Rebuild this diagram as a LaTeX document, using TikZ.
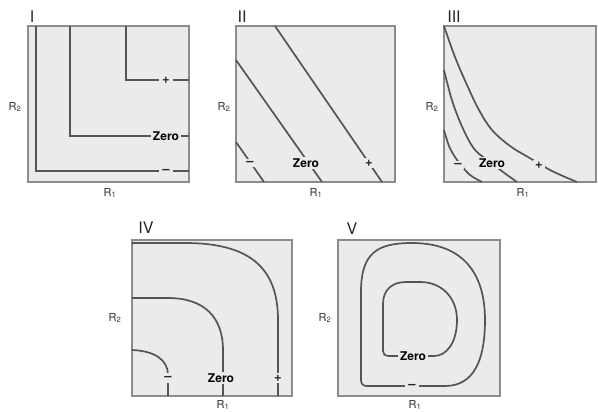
\documentclass[tikz,border=0pt]{standalone}
\usepackage{fontspec}
\setmainfont{TeX Gyre Heros}
\begin{document}
\begin{tikzpicture}[x=1pt,y=-1pt,
  panel/.style={draw=boxgray,fill=panelfill,line width=1.3pt},
  curve/.style={draw=curvegray,line width=1.7pt},
  lab/.style={fill=panelfill,inner sep=2pt,text=black,font=\fontsize{12}{12}\selectfont\bfseries},
  sym/.style={fill=panelfill,inner sep=2pt,text=black!85,font=\fontsize{13}{13}\selectfont\bfseries},
  axis/.style={inner sep=0pt,text=black!80,font=\fontsize{11}{11}\selectfont},
  num/.style={inner sep=0pt,text=black!85,font=\fontsize{16}{16}\selectfont}]
\definecolor{panelfill}{RGB}{235,235,235}
\definecolor{boxgray}{RGB}{140,140,140}
\definecolor{curvegray}{RGB}{85,85,85}
\useasboundingbox (0,0) rectangle (598,412);
% ---------- Panel I
\draw[panel] (28,26) rectangle (189,182);
\node[num] (n1) at (32,17) {I};
\node[axis] (r2a) at (15,107) {R\textsubscript{2}};
\node[axis] (r1a) at (110,193) {R\textsubscript{1}};
\draw[curve] (36,26) -- (36,171) -- (189,171);
\draw[curve] (70,26) -- (70,136) -- (189,136);
\draw[curve] (126,26) -- (126,80) -- (189,80);
\node[sym,inner xsep=3pt] (m1) at (166,171) {–};
\node[lab] (z1) at (166,136) {Zero};
\node[sym,inner xsep=3pt] (p1) at (166,80) {+};
% ---------- Panel II
\draw[panel] (236,26) rectangle (395,182);
\node[num] (n2) at (242,17) {II};
\node[axis] (r2b) at (224,107) {R\textsubscript{2}};
\node[axis] (r1b) at (316,193) {R\textsubscript{1}};
\draw[curve] (275,26) -- (382,182);
\draw[curve] (236,60) -- (322,182);
\draw[curve] (236,142) -- (264,182);
\node[sym,inner xsep=2pt] (p2) at (369,163) {+};
\node[lab] (z2) at (306,163) {Zero};
\node[sym,inner xsep=2pt] (m2) at (250,163) {–};
% ---------- Panel III
\draw[panel] (444,26) rectangle (596,182);
\node[num] (n3) at (454,17) {III};
\node[axis] (r2c) at (432,107) {R\textsubscript{2}};
\node[axis] (r1c) at (523,193) {R\textsubscript{1}};
\draw[curve] plot[smooth,tension=0.6] coordinates {(444,26) (455,57) (467,85) (479,110) (492,130) (510,146) (528,157) (552,171) (577,182)};
\draw[curve] plot[smooth,tension=0.6] coordinates {(444,70) (451,97) (458,117) (467,137) (476,151) (490,162) (503,172) (517,182)};
\draw[curve] plot[smooth,tension=0.6] coordinates {(444,130) (449,146) (455,157) (461,165) (470,175) (482,182)};
\node[sym,inner xsep=2pt] (p3) at (539,165) {+};
\node[lab] (z3) at (492,163) {Zero};
\node[sym,inner xsep=2pt] (m3) at (458,165) {–};
% ---------- Panel IV
\draw[panel] (132,240) rectangle (292,396);
\node[num] (n4) at (146,228) {IV};
\node[axis] (r2d) at (115,318) {R\textsubscript{2}};
\node[axis] (r1d) at (223,405) {R\textsubscript{1}};
\draw[curve] (132,243) -- (185,243) .. controls (250,243) and (278,268) .. (278,320) -- (278,396);
\draw[curve] (132,298) -- (168,298) .. controls (205,298) and (223,318) .. (223,350) -- (223,396);
\draw[curve] (132,350) .. controls (155,351) and (168,360) .. (168,375) -- (168,396);
\node[sym,inner ysep=2pt,inner xsep=1pt] (p4) at (278,378) {+};
\node[lab] (z4) at (221,378) {Zero};
\node[sym,inner ysep=3pt,inner xsep=1pt] (m4) at (168,378) {–};
% ---------- Panel V
\draw[panel] (338,240) rectangle (500,396);
\node[num] (n5) at (352,229) {V};
\node[axis] (r2e) at (325,318) {R\textsubscript{2}};
\node[axis] (r1e) at (415,405) {R\textsubscript{1}};
\draw[curve] (445,386) -- (367,386) .. controls (363,386) and (361,384) .. (361,380) -- (361,292)
  .. controls (361,253) and (377,243) .. (412,243) .. controls (460,243) and (485,270) .. (485,320)
  .. controls (485,360) and (474,386) .. (445,386);
\draw[curve] (434,356) -- (388,356) .. controls (385,356) and (383,354) .. (383,351) -- (383,304)
  .. controls (383,290) and (392,282) .. (406,282) -- (420,282)
  .. controls (442,282) and (457,298) .. (457,320) .. controls (457,342) and (447,356) .. (434,356);
\node[sym,inner xsep=3pt,inner ysep=0pt] (m5) at (412,386) {–};
\node[lab] (z5) at (413,356) {Zero};
\end{tikzpicture}
\end{document}
